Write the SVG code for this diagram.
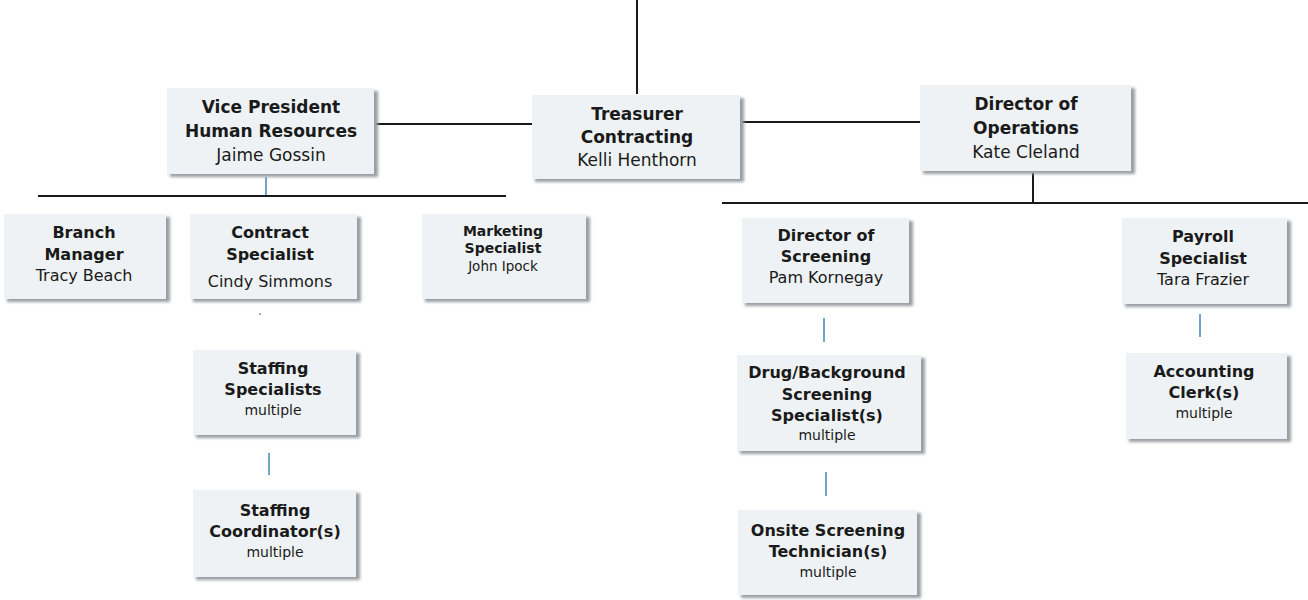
<svg xmlns="http://www.w3.org/2000/svg" width="1308" height="600" viewBox="0 0 1308 600">
<defs>
<filter id="sh" x="-10%" y="-10%" width="130%" height="130%">
<feGaussianBlur stdDeviation="1.5"/>
</filter>
<style>
.box{fill:#eef2f4;}
.shadow{fill:#9a9ea2;filter:url(#sh);}
text{font-family:"DejaVu Sans","Verdana",sans-serif;fill:#1a1a1a;text-anchor:middle;}
.t{font-weight:bold;font-size:17px;}
.n{font-size:17px;}
.t2{font-weight:bold;font-size:16px;}
.n2{font-size:16px;}
.m{font-size:14px;}
.line{stroke:#1a1a1a;stroke-width:2;fill:none;}
.blue{stroke:#6fa6c8;stroke-width:2;fill:none;}
</style>
</defs>
<rect width="1308" height="600" fill="#ffffff"/>
<g id="connectors">
<line class="line" x1="637" y1="0" x2="637" y2="94"/>
<line class="line" x1="376" y1="124" x2="532" y2="124"/>
<line class="line" x1="742" y1="122" x2="920" y2="122"/>
<line class="blue" x1="266" y1="177" x2="266" y2="196"/>
<line class="line" x1="38" y1="196" x2="506" y2="196"/>
<line class="line" x1="1033" y1="173" x2="1033" y2="203"/>
<line class="line" x1="722" y1="203" x2="1308" y2="203"/>
<line class="blue" x1="269" y1="453" x2="269" y2="475"/>
<line class="blue" x1="824" y1="318" x2="824" y2="342"/>
<line class="blue" x1="826" y1="472" x2="826" y2="496"/>
<line class="blue" x1="1200" y1="314" x2="1200" y2="337"/>
<circle cx="260" cy="314" r="1" fill="#888"/>
</g>
<g id="vp-hr">
<rect class="shadow" x="170" y="91" width="208" height="86"/>
<rect class="box" x="167" y="88" width="207" height="86"/>
<text x="271" y="113" class="t">Vice President</text>
<text x="271" y="137" class="t">Human Resources</text>
<text x="271" y="161" class="n">Jaime Gossin</text>
</g>
<g id="treasurer">
<rect class="shadow" x="535" y="98" width="209" height="84"/>
<rect class="box" x="532" y="95" width="208" height="84"/>
<text x="637" y="120" class="t">Treasurer</text>
<text x="637" y="143" class="t">Contracting</text>
<text x="637" y="166" class="n">Kelli Henthorn</text>
</g>
<g id="dir-ops">
<rect class="shadow" x="923" y="88" width="212" height="86"/>
<rect class="box" x="920" y="85" width="211" height="86"/>
<text x="1026" y="110" class="t">Director of</text>
<text x="1026" y="134" class="t">Operations</text>
<text x="1026" y="158" class="n">Kate Cleland</text>
</g>
<g id="branch-manager">
<rect class="shadow" x="7" y="217" width="163" height="85"/>
<rect class="box" x="4" y="214" width="162" height="85"/>
<text x="84" y="238" class="t2">Branch</text>
<text x="84" y="260" class="t2">Manager</text>
<text x="84" y="281" class="n2">Tracy Beach</text>
</g>
<g id="contract-specialist">
<rect class="shadow" x="193" y="217" width="168" height="85"/>
<rect class="box" x="190" y="214" width="167" height="85"/>
<text x="270" y="238" class="t2">Contract</text>
<text x="270" y="260" class="t2">Specialist</text>
<text x="270" y="287" class="n2">Cindy Simmons</text>
</g>
<g id="marketing-specialist">
<rect class="shadow" x="425" y="217" width="165" height="85"/>
<rect class="box" x="422" y="214" width="164" height="85"/>
<text x="503" y="236" class="t" style="font-size:14px">Marketing</text>
<text x="503" y="253" class="t" style="font-size:14px">Specialist</text>
<text x="503" y="271" class="n" style="font-size:13.5px">John Ipock</text>
</g>
<g id="staffing-specialists">
<rect class="shadow" x="196" y="353" width="164" height="85"/>
<rect class="box" x="193" y="350" width="163" height="85"/>
<text x="273" y="374" class="t2">Staffing</text>
<text x="273" y="395" class="t2">Specialists</text>
<text x="273" y="415" class="m">multiple</text>
</g>
<g id="staffing-coordinators">
<rect class="shadow" x="196" y="493" width="164" height="87"/>
<rect class="box" x="193" y="490" width="163" height="87"/>
<text x="275" y="516" class="t2">Staffing</text>
<text x="275" y="537" class="t2">Coordinator(s)</text>
<text x="275" y="557" class="m">multiple</text>
</g>
<g id="dir-screening">
<rect class="shadow" x="745" y="221" width="168" height="85"/>
<rect class="box" x="742" y="218" width="167" height="85"/>
<text x="826" y="241" class="t2">Director of</text>
<text x="826" y="262" class="t2">Screening</text>
<text x="826" y="283" class="n2">Pam Kornegay</text>
</g>
<g id="drug-background">
<rect class="shadow" x="740" y="358" width="185" height="96"/>
<rect class="box" x="737" y="355" width="184" height="96"/>
<text x="827" y="378" class="t2">Drug/Background</text>
<text x="827" y="400" class="t2">Screening</text>
<text x="827" y="421" class="t2">Specialist(s)</text>
<text x="827" y="440" class="m">multiple</text>
</g>
<g id="onsite">
<rect class="shadow" x="741" y="513" width="180" height="85"/>
<rect class="box" x="738" y="510" width="179" height="85"/>
<text x="828" y="536" class="t2">Onsite Screening</text>
<text x="828" y="557" class="t2">Technician(s)</text>
<text x="828" y="577" class="m">multiple</text>
</g>
<g id="payroll">
<rect class="shadow" x="1125" y="221" width="166" height="86"/>
<rect class="box" x="1122" y="218" width="165" height="86"/>
<text x="1203" y="242" class="t2">Payroll</text>
<text x="1203" y="264" class="t2">Specialist</text>
<text x="1203" y="285" class="n2">Tara Frazier</text>
</g>
<g id="accounting-clerks">
<rect class="shadow" x="1129" y="356" width="162" height="86"/>
<rect class="box" x="1126" y="353" width="161" height="86"/>
<text x="1204" y="377" class="t2">Accounting</text>
<text x="1204" y="398" class="t2">Clerk(s)</text>
<text x="1204" y="418" class="m">multiple</text>
</g>
</svg>
